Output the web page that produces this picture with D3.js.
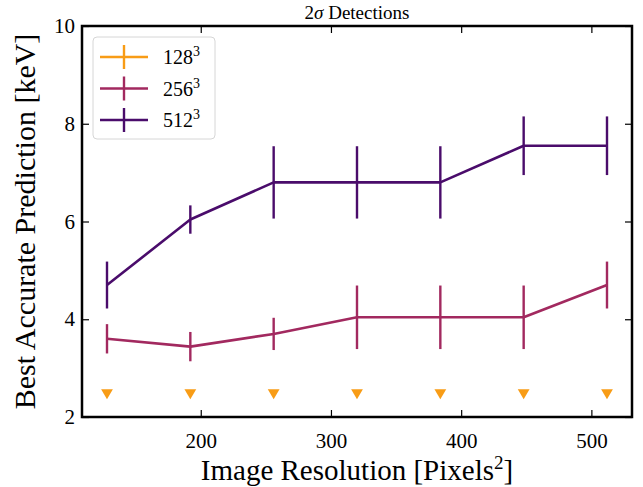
<!DOCTYPE html>
<html>
<head>
<meta charset="utf-8">
<script src="https://cdn.jsdelivr.net/npm/d3@7"></script>
<style>
  body { margin: 0; background: #fff; }
  text { font-family: "Liberation Serif", "DejaVu Serif", serif; fill: #000; }
</style>
</head>
<body>
<svg width="643" height="487"></svg>
<script>
// data
var resolutions = [128, 192, 256, 320, 384, 448, 512];
var series = ["128", "256", "512"];
var colors = ["#f89c16", "#a2295f", "#4a0c6b"];

var values128 = [2.5, 2.5, 2.5, 2.5, 2.5, 2.5, 2.5];      // upper-limit markers
var values256 = [3.6, 3.44, 3.7, 4.04, 4.04, 4.04, 4.7];
var errors256 = [0.3, 0.3, 0.33, 0.65, 0.65, 0.65, 0.48];
var values512 = [4.7, 6.04, 6.8, 6.8, 6.8, 7.55, 7.55];
var errors512 = [0.48, 0.29, 0.74, 0.74, 0.74, 0.6, 0.6];

var xTicks = [200, 300, 400, 500];
var yTicks = [2, 4, 6, 8, 10];

var svg = d3.select("svg"),
    margin = {top: 26, right: 11, bottom: 70, left: 82},
    width = 643 - margin.left - margin.right,
    height = 487 - margin.top - margin.bottom;

var g = svg.append("g")
    .attr("transform", "translate(" + margin.left + "," + margin.top + ")");

// matplotlib-like 5% margins on x
var x = d3.scaleLinear().domain([108.8, 531.2]).range([0, width]);
var y = d3.scaleLinear().domain([2, 10]).range([height, 0]);

// axes with inward ticks on all four sides
function styleAxis(sel) {
  sel.select(".domain").remove();
  sel.selectAll(".tick line").attr("stroke", "#000").attr("stroke-width", 1.2);
  sel.selectAll(".tick text").style("font-size", "21px")
     .style("font-family", "'Liberation Serif', serif");
}

g.append("g")
  .attr("transform", "translate(0," + height + ")")
  .call(d3.axisBottom(x).tickValues(xTicks).tickSizeInner(-7).tickSizeOuter(0).tickPadding(16))
  .call(styleAxis);

g.append("g")
  .call(d3.axisTop(x).tickValues(xTicks).tickSizeInner(-7).tickSizeOuter(0).tickFormat(""))
  .call(styleAxis);

g.append("g")
  .call(d3.axisLeft(y).tickValues(yTicks).tickSizeInner(-7).tickSizeOuter(0).tickPadding(7))
  .call(styleAxis);

g.append("g")
  .attr("transform", "translate(" + width + ",0)")
  .call(d3.axisRight(y).tickValues(yTicks).tickSizeInner(-7).tickSizeOuter(0).tickFormat(""))
  .call(styleAxis);

// lines with vertical error bars
var line = d3.line()
    .x(function(d) { return x(d.r); })
    .y(function(d) { return y(d.v); });

function drawSeries(vals, errs, color) {
  var data = resolutions.map(function(r, i) { return {r: r, v: vals[i], e: errs[i]}; });
  g.append("path")
    .datum(data)
    .attr("d", line)
    .attr("fill", "none")
    .attr("stroke", color)
    .attr("stroke-width", 2.6)
    .attr("stroke-linejoin", "round");
  g.selectAll(null)
    .data(data)
    .enter().append("line")
    .attr("x1", function(d) { return x(d.r); })
    .attr("x2", function(d) { return x(d.r); })
    .attr("y1", function(d) { return y(d.v + d.e); })
    .attr("y2", function(d) { return y(d.v - d.e); })
    .attr("stroke", color)
    .attr("stroke-width", 2.4);
}

drawSeries(values256, errors256, colors[1]);
drawSeries(values512, errors512, colors[2]);

// 128^3: only downward triangles (limits)
g.selectAll(".lim")
  .data(resolutions.map(function(r, i) { return {r: r, v: values128[i]}; }))
  .enter().append("path")
  .attr("class", "lim")
  .attr("d", d3.symbol().type(d3.symbolTriangle).size(60))
  .attr("transform", function(d) { return "translate(" + x(d.r) + "," + y(d.v) + ") rotate(180)"; })
  .attr("fill", colors[0]);

// frame
g.append("rect")
  .attr("width", width)
  .attr("height", height)
  .attr("fill", "none")
  .attr("stroke", "#000")
  .attr("stroke-width", 2.5);

// title
var title = g.append("text")
  .attr("x", width / 2)
  .attr("y", -7)
  .attr("text-anchor", "middle")
  .style("font-size", "19px");
title.append("tspan").text("2");
title.append("tspan").style("font-style", "italic").text("σ");
title.append("tspan").text(" Detections");

// axis labels
var xl = g.append("text")
  .attr("x", width / 2)
  .attr("y", height + 63)
  .attr("text-anchor", "middle")
  .style("font-size", "29px");
xl.append("tspan").text("Image Resolution [Pixels");
xl.append("tspan").attr("dy", -11).style("font-size", "19px").text("2");
xl.append("tspan").attr("dy", 11).text("]");

g.append("text")
  .attr("transform", "translate(" + (-47) + "," + (height / 2) + ") rotate(-90)")
  .attr("text-anchor", "middle")
  .style("font-size", "30px")
  .text("Best Accurate Prediction [keV]");

// legend
var legend = g.append("g").attr("transform", "translate(11,11)");
legend.append("rect")
  .attr("width", 122)
  .attr("height", 102)
  .attr("rx", 4)
  .attr("fill", "#fff")
  .attr("fill-opacity", 0.85)
  .attr("stroke", "#d6d6d6")
  .attr("stroke-width", 1);

var items = legend.selectAll(".item")
  .data(series)
  .enter().append("g")
  .attr("class", "item")
  .attr("transform", function(d, i) { return "translate(0," + (20 + i * 31.5) + ")"; });

items.append("line")
  .attr("x1", 7).attr("x2", 55)
  .attr("stroke", function(d, i) { return colors[i]; })
  .attr("stroke-width", 2.6);
items.append("line")
  .attr("x1", 31).attr("x2", 31)
  .attr("y1", -12).attr("y2", 12)
  .attr("stroke", function(d, i) { return colors[i]; })
  .attr("stroke-width", 2.4);

var lt = items.append("text")
  .attr("x", 70)
  .attr("y", 7)
  .style("font-size", "20px");
lt.append("tspan").text(function(d) { return d; });
lt.append("tspan").attr("dy", -8).style("font-size", "14px").text("3");
</script>
</body>
</html>
